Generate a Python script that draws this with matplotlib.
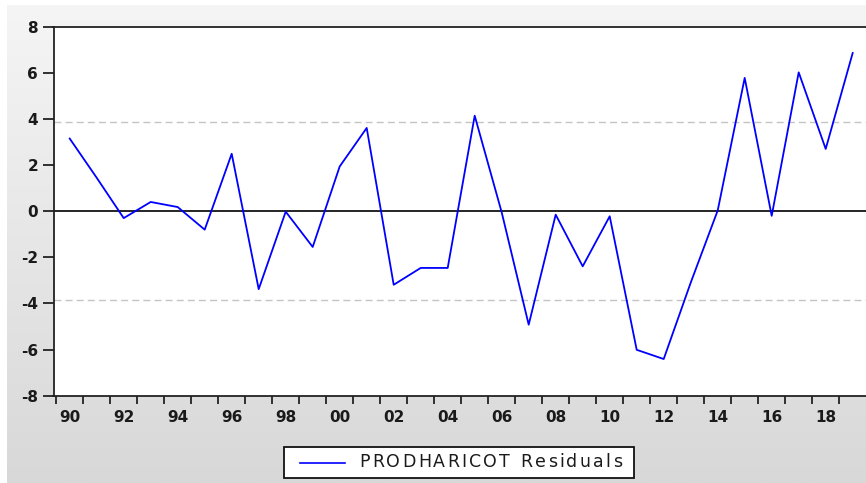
import numpy as np
import matplotlib
matplotlib.use("Agg")
import matplotlib.pyplot as plt
from matplotlib.patches import Rectangle
from matplotlib.lines import Line2D

# residuals (annual, 1990-2019)
years = [1990, 1991, 1992, 1993, 1994, 1995, 1996, 1997, 1998, 1999,
         2000, 2001, 2002, 2003, 2004, 2005, 2006, 2007, 2008, 2009,
         2010, 2011, 2012, 2013, 2014, 2015, 2016, 2017, 2018, 2019]
resid = [3.15, 1.45, -0.30, 0.40, 0.18, -0.80, 2.49, -3.38, -0.02, -1.55,
         1.94, 3.61, -3.19, -2.46, -2.46, 4.14, -0.05, -4.92, -0.15, -2.39,
         -0.22, -6.01, -6.41, -3.10, 0.03, 5.78, -0.20, 6.02, 2.70, 6.86]
std_band = 3.86
label = "PRODHARICOT Residuals"

ytick_vals = [-8, -6, -4, -2, 0, 2, 4, 6, 8]
ytick_labels = ["-8", "-6", "-4", "-2", "0", "2", "4", "6", "8"]
xtick_vals = [1990, 1992, 1994, 1996, 1998, 2000, 2002, 2004, 2006, 2008,
              2010, 2012, 2014, 2016, 2018]
xtick_labels = ["90", "92", "94", "96", "98", "00", "02", "04", "06", "08",
                "10", "12", "14", "16", "18"]

W, H = 866, 483
fig = plt.figure(figsize=(W / 100, H / 100), dpi=100, facecolor="white")

def fx(px):
    return px / W

def fy(py):
    return 1 - py / H

# grey gradient backdrop (EViews frame)
bg = fig.add_axes([fx(7), 0, 1 - fx(7), fy(5)], zorder=-10)
grad = np.linspace(0, 1, 256).reshape(-1, 1)
bg.imshow(grad, aspect="auto", cmap=matplotlib.colors.LinearSegmentedColormap.from_list(
    "g", ["#f5f5f5", "#d8d8d8"]), extent=[0, 1, 1, 0])
bg.set_axis_off()

x0, x1 = 1989.4, 2019.55
left_px, top_px, bot_px = 53.5, 26.7, 395.7
px_per_year = 27.0
right_px = left_px + (x1 - x0) * px_per_year
ax = fig.add_axes([fx(left_px), fy(bot_px), fx(right_px - left_px), (bot_px - top_px) / H])
ax.set_facecolor("white")

ax.axhline(std_band, color="#c4c4c4", lw=1.0, ls=(0, (5, 3)), zorder=1)
ax.axhline(-std_band, color="#c4c4c4", lw=1.0, ls=(0, (5, 3)), zorder=1)
ax.axhline(0, color="black", lw=1.2, zorder=2)
ax.plot(years, resid, color="#0000ff", lw=1.3, zorder=3)

ax.set_xlim(x0, x1)
ax.set_ylim(-8, 8)

for s in ["left", "bottom", "top", "right"]:
    ax.spines[s].set_color("#222222")
    ax.spines[s].set_linewidth(1.3)

ax.set_yticks(ytick_vals, ytick_labels)
ax.set_xticks(xtick_vals, xtick_labels)
ax.set_xticks(np.array(years) - 0.5, minor=True)
ax.tick_params(axis="y", which="major", length=8, width=1.3, color="#222222",
               pad=3, labelsize=11, labelcolor="#1a1a1a")
ax.tick_params(axis="x", which="major", length=0, pad=10, labelsize=11,
               labelcolor="#1a1a1a")
ax.tick_params(axis="x", which="minor", length=5.5, width=1.3, color="#222222")
for t in ax.get_xticklabels() + ax.get_yticklabels():
    t.set_fontfamily("DejaVu Sans")
    t.set_fontweight("bold")

# legend box drawn by hand (EViews letter spacing)
fig.patches.append(Rectangle((fx(284), fy(478)), fx(634 - 284), (478 - 447) / H,
                             transform=fig.transFigure, facecolor="white",
                             edgecolor="#111111", lw=1.3, zorder=5))
fig.lines.append(Line2D([fx(300), fx(345)], [fy(462.5), fy(462.5)],
                        transform=fig.transFigure, color="#0000ff", lw=1.2, zorder=6))

renderer = fig.canvas.get_renderer()
fs = 12.5
fam = "DejaVu Sans"
widths = []
for ch in label:
    if ch == " ":
        widths.append(0.318 * fs * 100 / 72)
        continue
    t = fig.text(0, 0, ch, fontsize=fs, family=fam)
    widths.append(t.get_window_extent(renderer).width)
    t.remove()
start, end = 359, 622
gap = (end - start - sum(widths)) / (len(label) - 1)
xp = start
for ch, w in zip(label, widths):
    if ch != " ":
        fig.text(fx(xp), fy(467), ch, fontsize=fs, family=fam, color="#1a1a1a",
                 ha="left", va="baseline", zorder=7)
    xp += w + gap

fig.savefig("out.png", dpi=100)
